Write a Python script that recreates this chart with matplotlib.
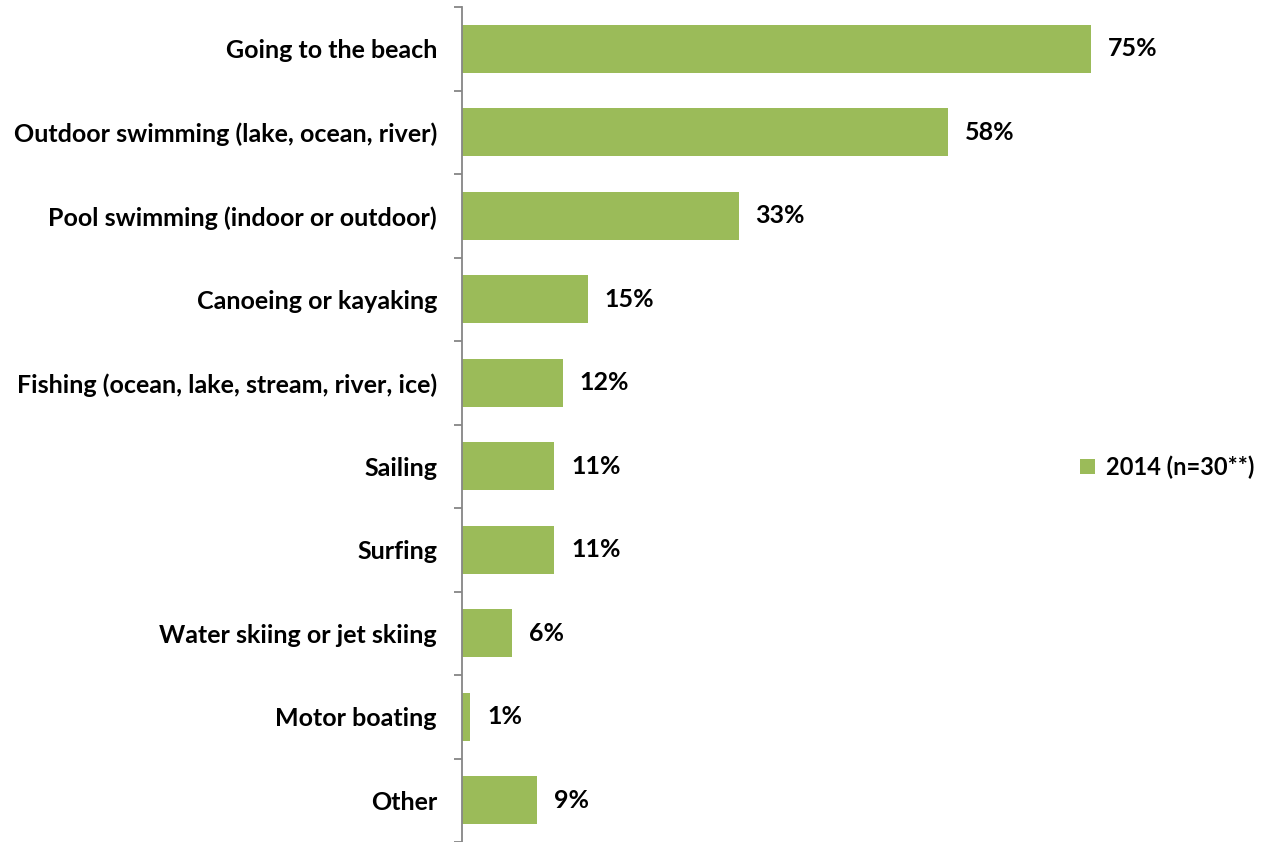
import matplotlib
matplotlib.use("Agg")
import matplotlib.pyplot as plt
from matplotlib.patches import Patch

categories = [
    "Going to the beach",
    "Outdoor swimming (lake, ocean, river)",
    "Pool swimming (indoor or outdoor)",
    "Canoeing or kayaking",
    "Fishing (ocean, lake, stream, river, ice)",
    "Sailing",
    "Surfing",
    "Water skiing or jet skiing",
    "Motor boating",
    "Other",
]
values = [75, 58, 33, 15, 12, 11, 11, 6, 1, 9]
series_label = "2014 (n=30**)"

GREEN = "#9BBB59"
AXIS_GREY = "#868686"
FS = 18

plt.rcParams["font.family"] = ["Lato", "DejaVu Sans"]
plt.rcParams["font.weight"] = "bold"

W, H = 1262, 842
fig = plt.figure(figsize=(W / 100, H / 100), dpi=100)
left, right = 462 / W, 1133 / W
bottom, top = 0 / H, (H - 7) / H
ax = fig.add_axes([left, bottom, right - left, top - bottom])

n = len(categories)
ypos = list(range(n))
ax.barh(ypos, values, height=0.57, color=GREEN, edgecolor="none")
ax.set_xlim(0, 80)
ax.set_ylim(n - 0.5, -0.5)

for y, v in zip(ypos, values):
    ax.text(v + 2.0, y, f"{v}%", va="center", ha="left",
            fontsize=FS, fontweight="bold", color="black")

for side in ("top", "right", "bottom"):
    ax.spines[side].set_visible(False)
ax.spines["left"].set_color(AXIS_GREY)
ax.spines["left"].set_linewidth(1.3)
ax.set_xticks([])

# category boundaries carry the tick marks; labels sit at bar centres
ax.set_yticks([i - 0.5 for i in range(n + 1)])
ax.set_yticklabels([])
ax.set_yticks(ypos, minor=True)
ax.set_yticklabels(categories, minor=True, fontsize=FS, fontweight="bold")
ax.tick_params(axis="y", which="major", length=6, width=1.3, color=AXIS_GREY)
ax.tick_params(axis="y", which="minor", length=0, pad=18)

handle = Patch(facecolor=GREEN, edgecolor="none")
fig.legend([handle], [series_label], loc="center left",
           bbox_to_anchor=(1080 / W, 1 - 467 / H), frameon=False,
           borderpad=0, borderaxespad=0,
           handlelength=0.65, handleheight=0.65, handletextpad=0.45,
           prop={"weight": "bold", "size": 17})

fig.savefig("out.png", dpi=100)
